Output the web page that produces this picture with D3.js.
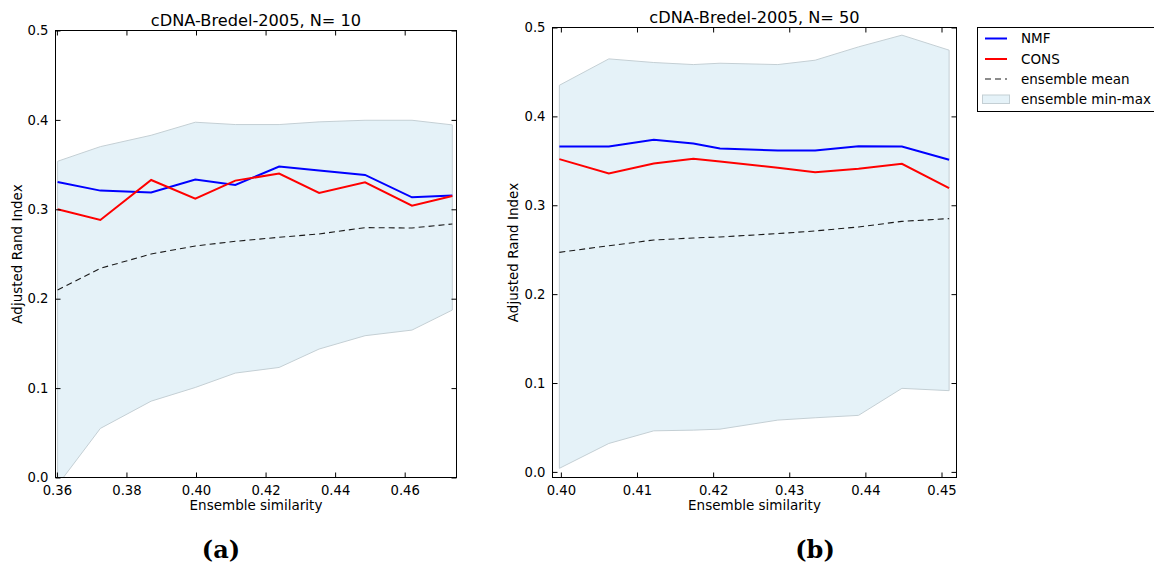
<!DOCTYPE html>
<html>
<head>
<meta charset="utf-8">
<script src="https://cdn.jsdelivr.net/npm/d3@7/dist/d3.min.js"></script>
<style>
  html, body { margin: 0; padding: 0; background: #ffffff; }
  svg { display: block; }
  text { font-family: "DejaVu Sans", sans-serif; fill: #000; }
</style>
</head>
<body>
<svg id="chart" width="1154" height="564"></svg>
<script>
// ---------------- Data ----------------
// Panel (a): N = 10
const xA       = [0.3602, 0.3725, 0.3871, 0.3998, 0.4113, 0.4239, 0.4354, 0.4486, 0.4621, 0.4737];
const nmfA     = [0.3306, 0.3209, 0.3187, 0.3332, 0.3272, 0.3478, 0.3433, 0.3384, 0.3134, 0.3153];
const consA    = [0.3000, 0.2881, 0.3328, 0.3119, 0.3321, 0.3399, 0.3183, 0.3302, 0.3041, 0.3149];
const meanA    = [0.2097, 0.2340, 0.2500, 0.2590, 0.2642, 0.2687, 0.2724, 0.2795, 0.2791, 0.2836];
const maxA     = [0.3537, 0.3701, 0.3828, 0.3974, 0.3948, 0.3948, 0.3978, 0.3996, 0.3996, 0.3944];
const minA     = [-0.0085, 0.0549, 0.0854, 0.1007, 0.1168, 0.1231, 0.1437, 0.1586, 0.1649, 0.1873];
const xTicksA  = [0.36, 0.38, 0.40, 0.42, 0.44, 0.46];
const yTicksA  = [0.0, 0.1, 0.2, 0.3, 0.4, 0.5];

// Panel (b): N = 50
const xB       = [0.3998, 0.4063, 0.4122, 0.4174, 0.4209, 0.4285, 0.4334, 0.4391, 0.4448, 0.4510];
const nmfB     = [0.3662, 0.3662, 0.3737, 0.3696, 0.3639, 0.3617, 0.3617, 0.3665, 0.3662, 0.3512];
const consB    = [0.3519, 0.3357, 0.3470, 0.3523, 0.3493, 0.3422, 0.3372, 0.3410, 0.3467, 0.3192];
const meanB    = [0.2470, 0.2545, 0.2609, 0.2632, 0.2643, 0.2681, 0.2711, 0.2756, 0.2819, 0.2850];
const maxB     = [0.4350, 0.4647, 0.4606, 0.4583, 0.4598, 0.4583, 0.4632, 0.4782, 0.4914, 0.4745];
const minB     = [0.0040, 0.0320, 0.0462, 0.0470, 0.0481, 0.0583, 0.0609, 0.0636, 0.0940, 0.0914];
const xTicksB  = [0.40, 0.41, 0.42, 0.43, 0.44, 0.45];
const yTicksB  = [0.0, 0.1, 0.2, 0.3, 0.4, 0.5];

const titles   = ["cDNA-Bredel-2005, N= 10", "cDNA-Bredel-2005, N= 50"];
const captions = ["(a)", "(b)"];
const legendLabels = ["NMF", "CONS", "ensemble mean", "ensemble min-max"];
const xLabel = "Ensemble similarity";
const yLabel = "Adjusted Rand Index";

// ---------------- Styles ----------------
const BAND_FILL = "#e5f2f8";
const BAND_EDGE = "#c4cfd4";
const NMF_COLOR = "#0000ff";
const CONS_COLOR = "#ff0000";
const MEAN_COLOR = "#1a1a1a";
const LABEL_SIZE = 13.5;
const TICK_SIZE = 13.2;

const svg = d3.select("#chart");

function drawPanel(p) {
  const x = d3.scaleLinear().domain(p.xDomain).range([p.left, p.right]);
  const y = d3.scaleLinear().domain(p.yDomain).range([p.bottom, p.top]);
  const g = svg.append("g");

  const clipId = "clip-" + p.id;
  svg.append("defs").append("clipPath").attr("id", clipId)
    .append("rect").attr("x", p.left).attr("y", p.top)
    .attr("width", p.right - p.left).attr("height", p.bottom - p.top);

  const plot = g.append("g").attr("clip-path", `url(#${clipId})`);
  const idx = d3.range(p.xs.length);

  // band
  const area = d3.area().x(i => x(p.xs[i])).y0(i => y(p.mins[i])).y1(i => y(p.maxs[i]));
  plot.append("path").datum(idx).attr("d", area)
    .attr("fill", BAND_FILL).attr("stroke", BAND_EDGE).attr("stroke-width", 1);

  const line = vals => d3.line().x(i => x(p.xs[i])).y(i => y(vals[i]));

  plot.append("path").datum(idx).attr("d", line(p.mean))
    .attr("fill", "none").attr("stroke", MEAN_COLOR).attr("stroke-width", 1.1)
    .attr("stroke-dasharray", "6,4");
  plot.append("path").datum(idx).attr("d", line(p.nmf))
    .attr("fill", "none").attr("stroke", NMF_COLOR).attr("stroke-width", 2);
  plot.append("path").datum(idx).attr("d", line(p.cons))
    .attr("fill", "none").attr("stroke", CONS_COLOR).attr("stroke-width", 2);

  // axes (matplotlib classic: inward ticks on all sides)
  const tickLen = 5;
  const fmtX = d3.format(".2f"), fmtY = d3.format(".1f");
  const axB = d3.axisBottom(x).tickValues(p.xTicks).tickFormat(fmtX).tickSizeInner(-tickLen).tickSizeOuter(0).tickPadding(8);
  const axT = d3.axisTop(x).tickValues(p.xTicks).tickFormat("").tickSizeInner(-tickLen).tickSizeOuter(0);
  const axL = d3.axisLeft(y).tickValues(p.yTicks).tickFormat(fmtY).tickSizeInner(-tickLen).tickSizeOuter(0).tickPadding(7);
  const axR = d3.axisRight(y).tickValues(p.yTicks).tickFormat("").tickSizeInner(-tickLen).tickSizeOuter(0);

  const styleAx = sel => {
    sel.select(".domain").remove();
    sel.selectAll(".tick line").attr("stroke", "#000").attr("stroke-width", 1);
    sel.selectAll(".tick text").attr("font-size", TICK_SIZE).attr("font-family", "DejaVu Sans").attr("fill", "#000");
  };
  g.append("g").attr("transform", `translate(0,${p.bottom})`).call(axB).call(styleAx);
  g.append("g").attr("transform", `translate(0,${p.top})`).call(axT).call(styleAx);
  g.append("g").attr("transform", `translate(${p.left},0)`).call(axL).call(styleAx);
  g.append("g").attr("transform", `translate(${p.right},0)`).call(axR).call(styleAx);

  // frame
  g.append("rect").attr("x", p.left).attr("y", p.top)
    .attr("width", p.right - p.left).attr("height", p.bottom - p.top)
    .attr("fill", "none").attr("stroke", "#000").attr("stroke-width", 1);

  const cx = (p.left + p.right) / 2;
  g.append("text").attr("x", cx).attr("y", p.top - 4.5).attr("text-anchor", "middle")
    .attr("font-size", 16.2).text(p.title);
  g.append("text").attr("x", cx).attr("y", p.bottom + 32).attr("text-anchor", "middle")
    .attr("font-size", LABEL_SIZE).text(xLabel);
  g.append("text").attr("transform", `translate(${p.ylabX},${(p.top + p.bottom) / 2}) rotate(-90)`)
    .attr("text-anchor", "middle").attr("font-size", LABEL_SIZE).text(yLabel);
  g.append("text").attr("x", p.capX).attr("y", 558).attr("text-anchor", "middle")
    .style("font-family", "'DejaVu Serif', 'Liberation Serif', serif").attr("font-weight", "bold").attr("font-size", 24)
    .text(p.caption);
}

drawPanel({
  id: "a", left: 55.5, right: 456.5, top: 30.5, bottom: 477.5,
  xDomain: [0.3596, 0.4749], yDomain: [0, 0.5],
  xs: xA, nmf: nmfA, cons: consA, mean: meanA, maxs: maxA, mins: minA,
  xTicks: xTicksA, yTicks: yTicksA, title: titles[0], caption: captions[0],
  ylabX: 22, capX: 221
});
drawPanel({
  id: "b", left: 552.5, right: 956.5, top: 27.5, bottom: 477.5,
  xDomain: [0.3989, 0.45197], yDomain: [-0.0063, 0.5],
  xs: xB, nmf: nmfB, cons: consB, mean: meanB, maxs: maxB, mins: minB,
  xTicks: xTicksB, yTicks: yTicksB, title: titles[1], caption: captions[1],
  ylabX: 518, capX: 815
});

// ---------------- Legend ----------------
const lg = svg.append("g");
lg.append("rect").attr("x", 977.5).attr("y", 27.5).attr("width", 200).attr("height", 84)
  .attr("fill", "#fff").attr("stroke", "#000").attr("stroke-width", 1);
const rowY = [38.5, 59, 79, 99];
const lx0 = 985, lx1 = 1007, tx = 1021;
const styles = [
  {stroke: NMF_COLOR, w: 2, dash: null},
  {stroke: CONS_COLOR, w: 2, dash: null},
  {stroke: MEAN_COLOR, w: 1.1, dash: "6,4"}
];
styles.forEach((s, i) => {
  lg.append("line").attr("x1", lx0).attr("x2", lx1).attr("y1", rowY[i]).attr("y2", rowY[i])
    .attr("stroke", s.stroke).attr("stroke-width", s.w).attr("stroke-dasharray", s.dash);
});
lg.append("rect").attr("x", 982.5).attr("y", 95).attr("width", 27).attr("height", 8.5)
  .attr("fill", BAND_FILL).attr("stroke", BAND_EDGE).attr("stroke-width", 1);
legendLabels.forEach((t, i) => {
  lg.append("text").attr("x", tx).attr("y", rowY[i] + 4.8).attr("font-size", LABEL_SIZE).text(t);
});
</script>
</body>
</html>
